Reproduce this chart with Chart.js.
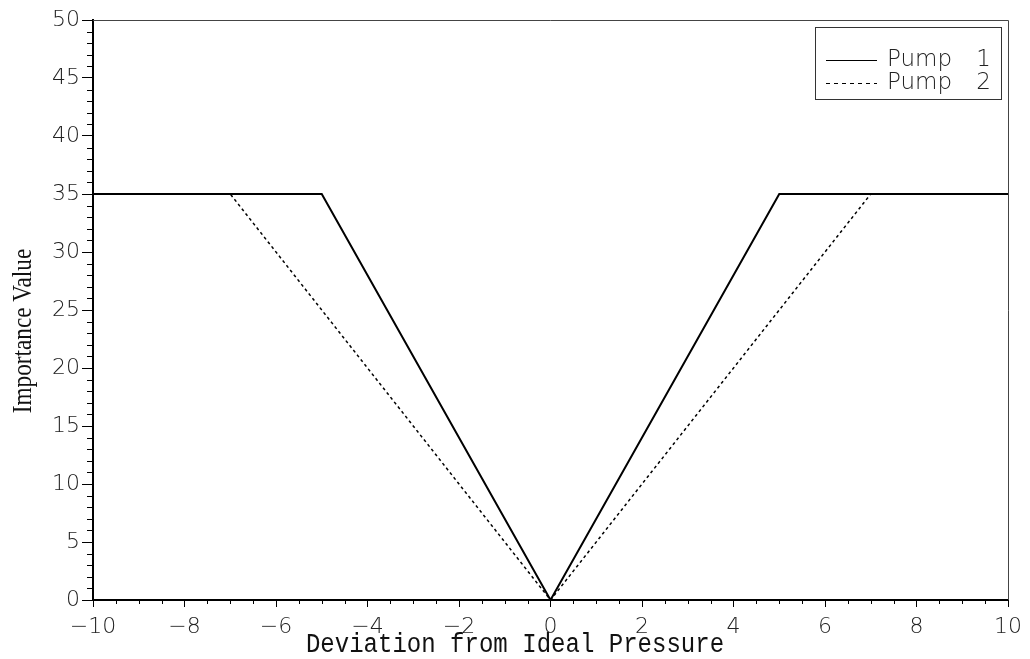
<!DOCTYPE html>
<html>
<head>
<meta charset="utf-8">
<script src="https://cdn.jsdelivr.net/npm/chart.js@4/dist/chart.umd.min.js"></script>
<style>
  html, body { margin: 0; padding: 0; background: #fff; }
  #wrap { width: 1030px; height: 659px; }
</style>
</head>
<body>
<div id="wrap"><canvas id="pumpChart" width="1030" height="659"></canvas></div>
<script>
// ============================= data

const pump1X = [-10, -5, 0, 5, 10];
const pump1Y = [35, 35, 0, 35, 35];
const pump2X = [-10, -7, 0, 7, 10];
const pump2Y = [35, 35, 0, 35, 35];

const seriesLabels = ['Pump 1', 'Pump 2'];
const xTitle = 'Deviation from Ideal Pressure';
const yTitle = 'Importance Value';

const xRange = [-10, 10];
const yRange = [0, 50];

const toPoints = (xs, ys) => xs.map((x, i) => ({ x: x, y: ys[i] }));

const tickFont = { family: 'DejaVu Sans', size: 22, weight: 200 };

// ============================= extra drawing: minor ticks, frame, titles, legend

const decorations = {
    id: 'decorations',
    afterDraw(chart) {
        const ctx = chart.ctx;
        const area = chart.chartArea;
        const xs = chart.scales.x;
        const ys = chart.scales.y;
        ctx.save();

        // minor ticks
        ctx.strokeStyle = '#000';
        ctx.lineWidth = 1;
        ctx.beginPath();
        for (let v = xRange[0]; v <= xRange[1]; v += 0.5) {
            if (v % 2 === 0) continue;
            const px = Math.round(xs.getPixelForValue(v)) + 0.5;
            ctx.moveTo(px, area.bottom);
            ctx.lineTo(px, area.bottom + 4);
        }
        for (let v = yRange[0]; v <= yRange[1]; v += 1) {
            if (v % 5 === 0) continue;
            const py = Math.round(ys.getPixelForValue(v)) + 0.5;
            ctx.moveTo(area.left - 6, py);
            ctx.lineTo(area.left, py);
        }
        ctx.stroke();

        // top / right frame
        ctx.strokeStyle = '#444';
        ctx.beginPath();
        ctx.moveTo(area.left, Math.round(area.top) + 0.5);
        ctx.lineTo(Math.round(area.right) + 0.5, Math.round(area.top) + 0.5);
        ctx.lineTo(Math.round(area.right) + 0.5, area.bottom);
        ctx.stroke();

        // x title (centred on the page), slightly condensed mono serif
        ctx.save();
        ctx.translate(chart.width / 2, 652);
        ctx.scale(0.89, 1);
        ctx.fillStyle = '#111';
        ctx.font = '27px "Liberation Mono"';
        ctx.textAlign = 'center';
        ctx.textBaseline = 'alphabetic';
        ctx.fillText(xTitle, 0, 0);
        ctx.restore();

        // y title, condensed serif
        ctx.save();
        ctx.translate(31, 331);
        ctx.rotate(-Math.PI / 2);
        ctx.scale(0.86, 1);
        ctx.fillStyle = '#111';
        ctx.font = '27px "Liberation Serif"';
        ctx.textAlign = 'center';
        ctx.fillText(yTitle, 0, 0);
        ctx.restore();

        // legend box
        const bx = 815, by = 27, bw = 186, bh = 72;
        ctx.strokeStyle = '#333';
        ctx.strokeRect(bx + 0.5, by + 0.5, bw, bh);
        chart.data.datasets.forEach((ds, i) => {
            const ly = 60 + i * 23;
            ctx.strokeStyle = '#000';
            ctx.lineWidth = 1;
            ctx.setLineDash(ds.borderDash && ds.borderDash.length ? [4, 4] : []);
            ctx.beginPath();
            ctx.moveTo(826, ly + 0.5);
            ctx.lineTo(877, ly + 0.5);
            ctx.stroke();
            ctx.setLineDash([]);
            const parts = ds.label.split(' ');
            ctx.font = '200 23px "DejaVu Sans"';
            ctx.fillStyle = '#222';
            ctx.textBaseline = 'middle';
            ctx.textAlign = 'left';
            ctx.fillText(parts[0], 887, ly);
            ctx.textAlign = 'right';
            ctx.fillText(parts[1], 991, ly);
        });
        ctx.restore();
    }
};

// ============================= chart

const ctx = document.getElementById('pumpChart').getContext('2d');
const pumpChart = new Chart(ctx, {
    type: 'line',
    data: {
        datasets: [
            {
                label: seriesLabels[0],
                data: toPoints(pump1X, pump1Y),
                borderColor: '#000',
                borderWidth: 2,
                pointRadius: 0,
                tension: 0,
                fill: false
            },
            {
                label: seriesLabels[1],
                data: toPoints(pump2X, pump2Y),
                borderColor: '#000',
                borderWidth: 1.5,
                borderDash: [3, 3],
                pointRadius: 0,
                tension: 0,
                fill: false
            }
        ]
    },
    options: {
        responsive: false,
        animation: false,
        layout: {
            padding: { left: 0, right: 22, top: 20, bottom: 0 }
        },
        plugins: {
            legend: { display: false },
            tooltip: { enabled: false }
        },
        scales: {
            x: {
                type: 'linear',
                min: xRange[0],
                max: xRange[1],
                afterFit: (s) => { s.height = 59; },
                ticks: {
                    stepSize: 2,
                    color: '#222',
                    font: tickFont,
                    padding: 7,
                    maxRotation: 0,
                    callback: (v) => v < 0 ? '\u2212' + Math.abs(v) : String(v)
                },
                grid: {
                    drawOnChartArea: false,
                    color: '#000',
                    tickLength: 7
                },
                border: { color: '#000', width: 2 }
            },
            y: {
                min: yRange[0],
                max: yRange[1],
                afterFit: (s) => { s.width = 93; },
                ticks: {
                    stepSize: 5,
                    color: '#222',
                    font: tickFont,
                    padding: 2
                },
                grid: {
                    drawOnChartArea: false,
                    color: '#000',
                    tickLength: 11
                },
                border: { color: '#000', width: 2 }
            }
        }
    },
    plugins: [decorations]
});
</script>
</body>
</html>
